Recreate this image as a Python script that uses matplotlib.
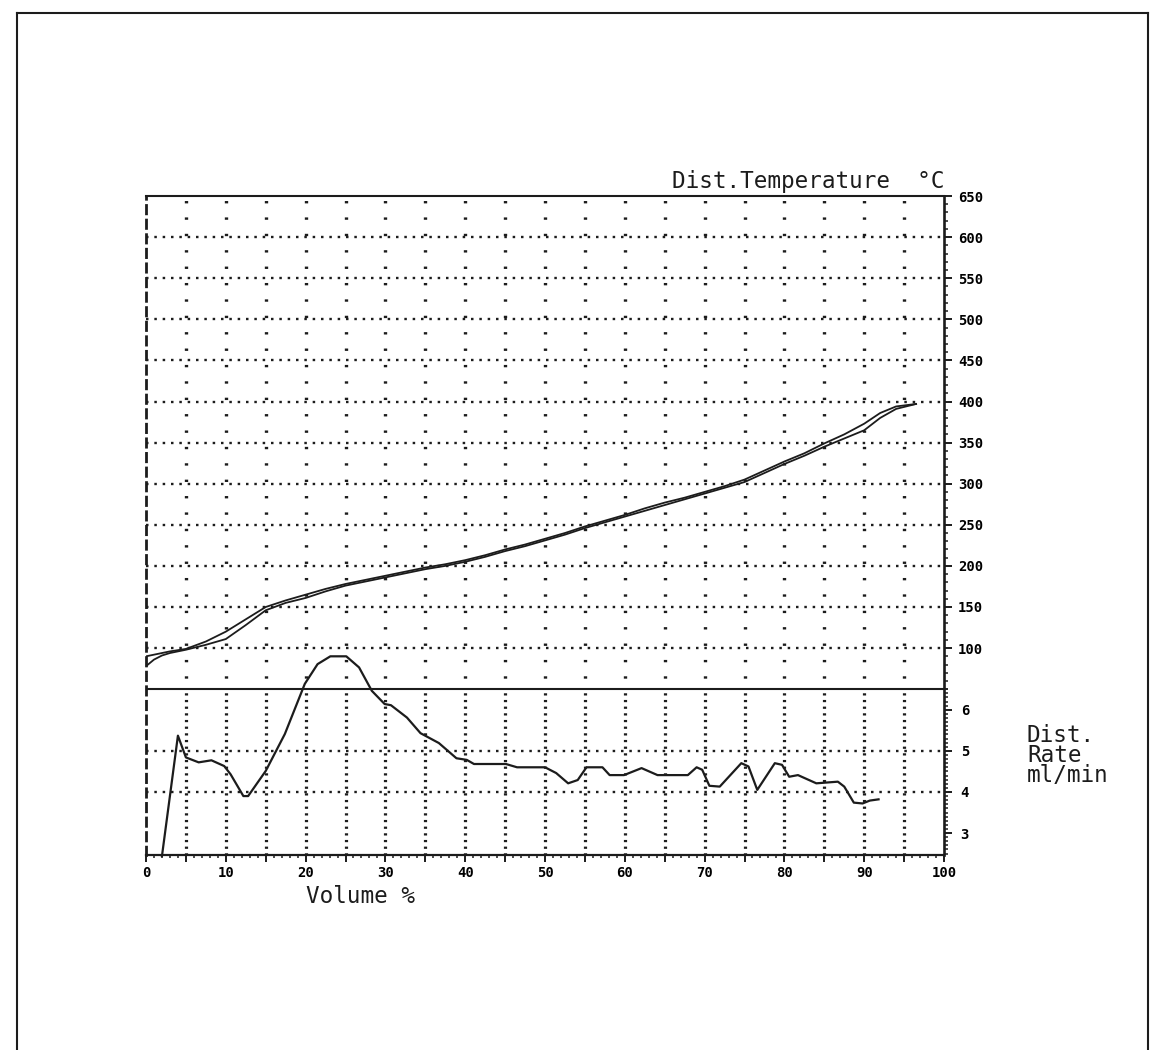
import matplotlib
matplotlib.use("Agg")
import matplotlib.pyplot as plt
import numpy as np
from matplotlib.lines import Line2D
from matplotlib.ticker import FixedLocator, FuncFormatter

plt.rcParams["lines.scale_dashes"] = False

# ---- distillation data -------------------------------------------------
volume_pct = [0, 1, 2, 3, 5, 7.5, 10, 12.5, 15, 17.5, 20, 22.5, 25, 27.5,
              30, 32.5, 35, 37.5, 40, 42.5, 45, 47.5, 50, 52.5, 55, 57.5,
              60, 62.5, 65, 67.5, 70, 72.5, 75, 77.5, 80, 82.5, 85, 87.5,
              90, 92, 94, 96.5]
temp_run_a = [90, 92, 94, 96, 99, 108, 120, 135, 150, 158, 165, 172, 178,
              183, 188, 193, 198, 202, 207, 213, 220, 226, 233, 240, 248,
              255, 262, 270, 277, 283, 290, 297, 305, 316, 327, 337, 349,
              360, 373, 386, 394, 397]
temp_run_b = [78, 86, 91, 94, 98, 104, 111, 128, 146, 155, 161, 169, 176,
              181, 186, 191, 196, 200, 205, 211, 218, 224, 231, 238, 246,
              253, 260, 267, 274, 281, 288, 295, 302, 313, 324, 334, 345,
              355, 365, 380, 391, 397]

rate_volume = [2.0, 4.0, 5.0, 6.6, 8.2, 9.8, 10.6, 12.2, 12.8, 15.0, 17.4,
               19.9, 21.5, 23.1, 25.1, 26.7, 28.3, 29.9, 30.7, 32.7, 34.4,
               36.7, 38.9, 40.2, 41.1, 45.1, 46.5, 50.0, 51.4, 52.9, 54.1,
               55.2, 57.2, 58.1, 59.9, 62.1, 64.1, 67.9, 69.0, 69.7, 70.6,
               71.9, 74.6, 75.5, 76.6, 78.8, 79.7, 80.6, 81.7, 84.0, 86.7,
               87.5, 88.7, 89.8, 90.7, 91.8]
rate_ml_min = [2.44, 5.37, 4.84, 4.72, 4.77, 4.63, 4.43, 3.90, 3.90, 4.51,
               5.41, 6.63, 7.11, 7.30, 7.30, 7.03, 6.46, 6.14, 6.11, 5.81,
               5.43, 5.19, 4.82, 4.78, 4.68, 4.68, 4.60, 4.60, 4.46, 4.21,
               4.29, 4.60, 4.60, 4.41, 4.41, 4.58, 4.41, 4.41, 4.60, 4.54,
               4.15, 4.13, 4.70, 4.62, 4.05, 4.70, 4.66, 4.37, 4.41, 4.21,
               4.25, 4.13, 3.74, 3.72, 3.79, 3.82]

volume_ticks = list(range(0, 101, 10))
temp_ticks = [650, 600, 550, 500, 450, 400, 350, 300, 250, 200, 150, 100]
rate_ticks = [6, 5, 4, 3]

# ---- layout --------------------------------------------------------------
W, H = 1151, 1050
INK = "#1c1c1c"
MONO = "DejaVu Sans Mono"

fig = plt.figure(figsize=(W / 100, H / 100), dpi=100)
fig.patch.set_facecolor("white")

L, R, T, B = 146, 944, 196, 855
ax = fig.add_axes([L / W, 1 - B / H, (R - L) / W, (B - T) / H])

T_TOP, T_SPLIT, PX_PER_50 = 650, 50, 41.1
t_bottom = T_TOP - (B - T) / PX_PER_50 * 50
ax.set_xlim(0, 100)
ax.set_ylim(t_bottom, T_TOP)

# rate scale shares the grid: 1 ml/min per 50 degC, 6.5 ml/min on the split
ax2 = ax.twinx()
ax2.set_ylim(t_bottom / 50 + 5.5, T_TOP / 50 + 5.5)
for s in ax2.spines.values():
    s.set_visible(False)
ax2.patch.set_visible(False)

# ---- grid -----------------------------------------------------------------
h_dots = (0, (1.8, 4.2))
ax.hlines(np.arange(100, 601, 50), 0, 100, colors=INK, lw=1.7,
          linestyles=[h_dots])
ax2.hlines([5, 4], 0, 100, colors=INK, lw=1.7, linestyles=[h_dots])
vx = np.arange(5, 100, 5)
ax.vlines(vx, T_SPLIT, T_TOP, colors=INK, lw=2.4,
          linestyles=[(4, (1.7, 10.1))])
ax.vlines(vx, t_bottom, T_SPLIT, colors=INK, lw=2.3,
          linestyles=[(0, (1.6, 3.2))])
ax.axhline(T_SPLIT, color=INK, lw=1.5)

# ---- curves ---------------------------------------------------------------
ax.plot(volume_pct, temp_run_a, color=INK, lw=1.3, solid_joinstyle="round")
ax.plot(volume_pct, temp_run_b, color=INK, lw=1.3, solid_joinstyle="round")
ax2.plot(rate_volume, rate_ml_min, color=INK, lw=1.6, clip_on=False,
         solid_joinstyle="round")

# ---- spines ---------------------------------------------------------------
for name in ("top", "right", "bottom", "left"):
    ax.spines[name].set_color(INK)
ax.spines["top"].set_linewidth(1.5)
ax.spines["right"].set_linewidth(1.9)
ax.spines["bottom"].set_linewidth(1.6)
ax.spines["left"].set_linewidth(2.0)
ax.spines["left"].set_linestyle((0, (6, 4.5)))

# ---- ticks ----------------------------------------------------------------
tick_font = dict(family=MONO, size=10, weight="bold")

ax.set_xticks(list(range(0, 101, 5)))
ax.xaxis.set_minor_locator(FixedLocator(list(range(0, 101, 1))))
ax.xaxis.set_major_formatter(
    FuncFormatter(lambda v, p: f"{int(v)}" if int(v) in volume_ticks else ""))
ax.tick_params(axis="x", which="major", direction="out", length=5,
               width=1.4, color=INK, pad=3)
ax.tick_params(axis="x", which="minor", direction="out", length=2.5,
               width=1.1, color=INK)
for lab in ax.get_xticklabels():
    lab.set(**tick_font)

ax.yaxis.set_ticks_position("right")
ax.set_yticks(temp_ticks)
ax.set_yticklabels([str(t) for t in temp_ticks])
ax.yaxis.set_minor_locator(FixedLocator(list(range(50, 651, 10))))
ax.tick_params(axis="y", which="major", direction="out", length=6,
               width=1.4, color=INK, pad=4, left=False, right=True,
               labelleft=False, labelright=True)
ax.tick_params(axis="y", which="minor", direction="out", length=3,
               width=1.1, color=INK, left=False, right=True)
for lab in ax.get_yticklabels():
    lab.set(**tick_font)

ax2.set_yticks(rate_ticks)
ax2.set_yticklabels([str(r) for r in rate_ticks])
ax2.yaxis.set_minor_locator(FixedLocator(list(np.arange(2.5, 6.51, 0.1))))
ax2.tick_params(axis="y", which="major", direction="out", length=6,
                width=1.4, color=INK, pad=6)
ax2.tick_params(axis="y", which="minor", direction="out", length=3,
                width=1.1, color=INK)
for lab in ax2.get_yticklabels():
    lab.set(**tick_font)

# ---- titles ---------------------------------------------------------------
title_font = dict(family=MONO, size=16.3, color=INK)
fig.text(672 / W, 1 - 188 / H, "Dist.Temperature  \u00b0C", va="baseline",
         ha="left", **title_font)
fig.text(306 / W, 1 - 903 / H, "Volume %", va="baseline", ha="left",
         **title_font)
fig.text(1027 / W, 1 - 724 / H, "Dist.\nRate\nml/min", va="top",
         ha="left", linespacing=0.82, **title_font)

# ---- sheet frame ------------------------------------------------------------
fx0, fx1, fy0 = 17 / W, 1148 / W, 1 - 13 / H
for xs, ys in (([fx0, fx0], [0, fy0]), ([fx0, fx1], [fy0, fy0]),
               ([fx1, fx1], [fy0, 0])):
    fig.add_artist(Line2D(xs, ys, transform=fig.transFigure, color=INK,
                          lw=1.5))

fig.savefig("out.png", dpi=100, facecolor="white")
